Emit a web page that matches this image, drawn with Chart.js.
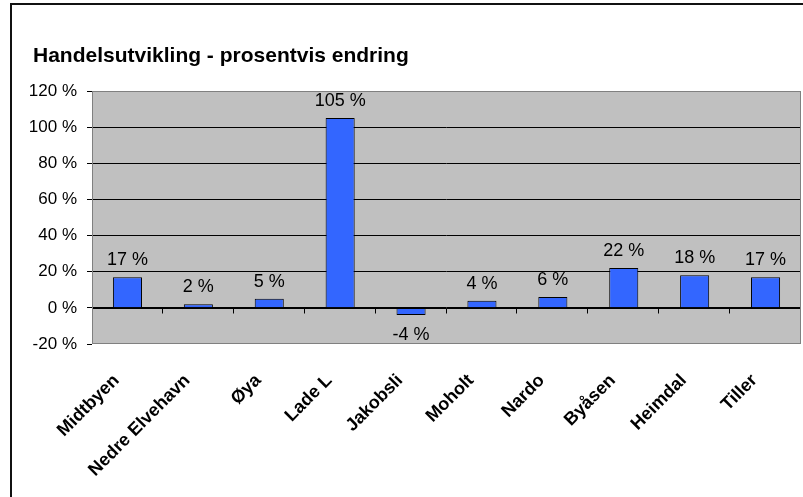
<!DOCTYPE html>
<html>
<head>
<meta charset="utf-8">
<script src="https://cdn.jsdelivr.net/npm/chart.js@4/dist/chart.umd.min.js"></script>
<style>
  body { margin: 0; background: #fff; }
  #wrap { position: relative; width: 803px; height: 497px; overflow: hidden; }
  #frame { position: absolute; left: 10px; top: 3px; width: 900px; height: 600px; border-left: 2px solid #111; border-top: 2px solid #111; }
  #c { position: absolute; left: 0; top: 0; }
</style>
</head>
<body>
<div id="wrap">
  <div id="frame"></div>
  <canvas id="c" width="803" height="497"></canvas>
</div>
<script>
// handelsutvikling per område, prosent
const tittel = 'Handelsutvikling - prosentvis endring';
const omrader = ['Midtbyen', 'Nedre Elvehavn', 'Øya', 'Lade L', 'Jakobsli', 'Moholt', 'Nardo', 'Byåsen', 'Heimdal', 'Tiller'];
const endring = [17, 2, 5, 105, -4, 4, 6, 22, 18, 17];
const yMin = -20, yMax = 120, yStep = 20;

const FONT = 'Arial, "Liberation Sans", sans-serif';

// tittel venstrejustert over plottet
const titleText = {
  id: 'titleText',
  afterDraw(chart) {
    const { ctx } = chart;
    ctx.save();
    ctx.font = 'bold 21px ' + FONT;
    ctx.fillStyle = '#000';
    ctx.textAlign = 'left';
    ctx.textBaseline = 'alphabetic';
    ctx.fillText(tittel, 33, 62);
    ctx.restore();
  }
};

// grå bakgrunn og ramme rundt plottet
const plotBg = {
  id: 'plotBg',
  beforeDraw(chart) {
    const { ctx, chartArea: a } = chart;
    ctx.save();
    ctx.fillStyle = '#C0C0C0';
    ctx.fillRect(a.left, a.top, a.right - a.left, a.bottom - a.top);
    ctx.restore();
  },
  afterDraw(chart) {
    const { ctx, chartArea: a } = chart;
    ctx.save();
    ctx.strokeStyle = '#808080';
    ctx.lineWidth = 1;
    ctx.strokeRect(a.left + 0.5, a.top + 0.5, a.right - a.left - 1, a.bottom - a.top - 1);
    ctx.restore();
  }
};

// nullinje med små streker mellom kategoriene
const zeroAxis = {
  id: 'zeroAxis',
  afterDatasetsDraw(chart) {
    const { ctx, chartArea: a, scales: { x, y } } = chart;
    const y0 = Math.round(y.getPixelForValue(0)) + 0.5;
    ctx.save();
    ctx.strokeStyle = '#000';
    ctx.lineWidth = 1;
    ctx.beginPath();
    ctx.moveTo(a.left, y0);
    ctx.lineTo(a.right, y0);
    for (let i = 0; i < omrader.length; i++) {
      const xp = Math.round(x.getPixelForValue(i + 0.5)) - 0.5;
      ctx.moveTo(xp, y0);
      ctx.lineTo(xp, y0 + 5);
    }
    ctx.stroke();
    ctx.restore();
  }
};

// verdietiketter over/under søylene
const valueLabels = {
  id: 'valueLabels',
  afterDatasetsDraw(chart) {
    const { ctx } = chart;
    const meta = chart.getDatasetMeta(0);
    ctx.save();
    ctx.font = '18px ' + FONT;
    ctx.fillStyle = '#000';
    ctx.textAlign = 'center';
    ctx.textBaseline = 'alphabetic';
    meta.data.forEach((bar, i) => {
      const v = endring[i];
      const ty = v >= 0 ? bar.y - 12 : bar.y + 25;
      ctx.fillText(v + ' %', bar.x, ty);
    });
    ctx.restore();
  }
};

new Chart(document.getElementById('c'), {
  type: 'bar',
  data: {
    labels: omrader,
    datasets: [{
      data: endring,
      backgroundColor: '#3366FF',
      borderColor: '#000',
      borderWidth: 1,
      barPercentage: 0.41,
      categoryPercentage: 1
    }]
  },
  options: {
    responsive: false,
    animation: false,
    layout: { padding: { left: 0, right: 2, top: 91, bottom: 0 } },
    plugins: {
      legend: { display: false },
      tooltip: { enabled: false },
      title: { display: false }
    },
    scales: {
      x: {
        grid: { display: false, drawTicks: false },
        border: { display: false },
        ticks: {
          autoSkip: false,
          maxRotation: 45,
          minRotation: 45,
          padding: 26,
          labelOffset: -11,
          color: '#000',
          font: { family: FONT, size: 18, weight: 'bold' }
        },
        afterFit(s) { s.height = 153; s.paddingRight = 0; s.paddingLeft = 0; }
      },
      y: {
        min: yMin,
        max: yMax,
        grid: {
          color: c => (c.tick.value === yMin || c.tick.value === yMax) ? 'rgba(0,0,0,0)' : '#000',
          tickColor: '#000',
          tickLength: 5,
          lineWidth: 1
        },
        border: { display: false },
        ticks: {
          stepSize: yStep,
          padding: 10,
          color: '#000',
          font: { family: FONT, size: 17 },
          callback: v => v + ' %'
        },
        afterFit(s) { s.width = 92; }
      }
    }
  },
  plugins: [plotBg, zeroAxis, valueLabels, titleText]
});
</script>
</body>
</html>
